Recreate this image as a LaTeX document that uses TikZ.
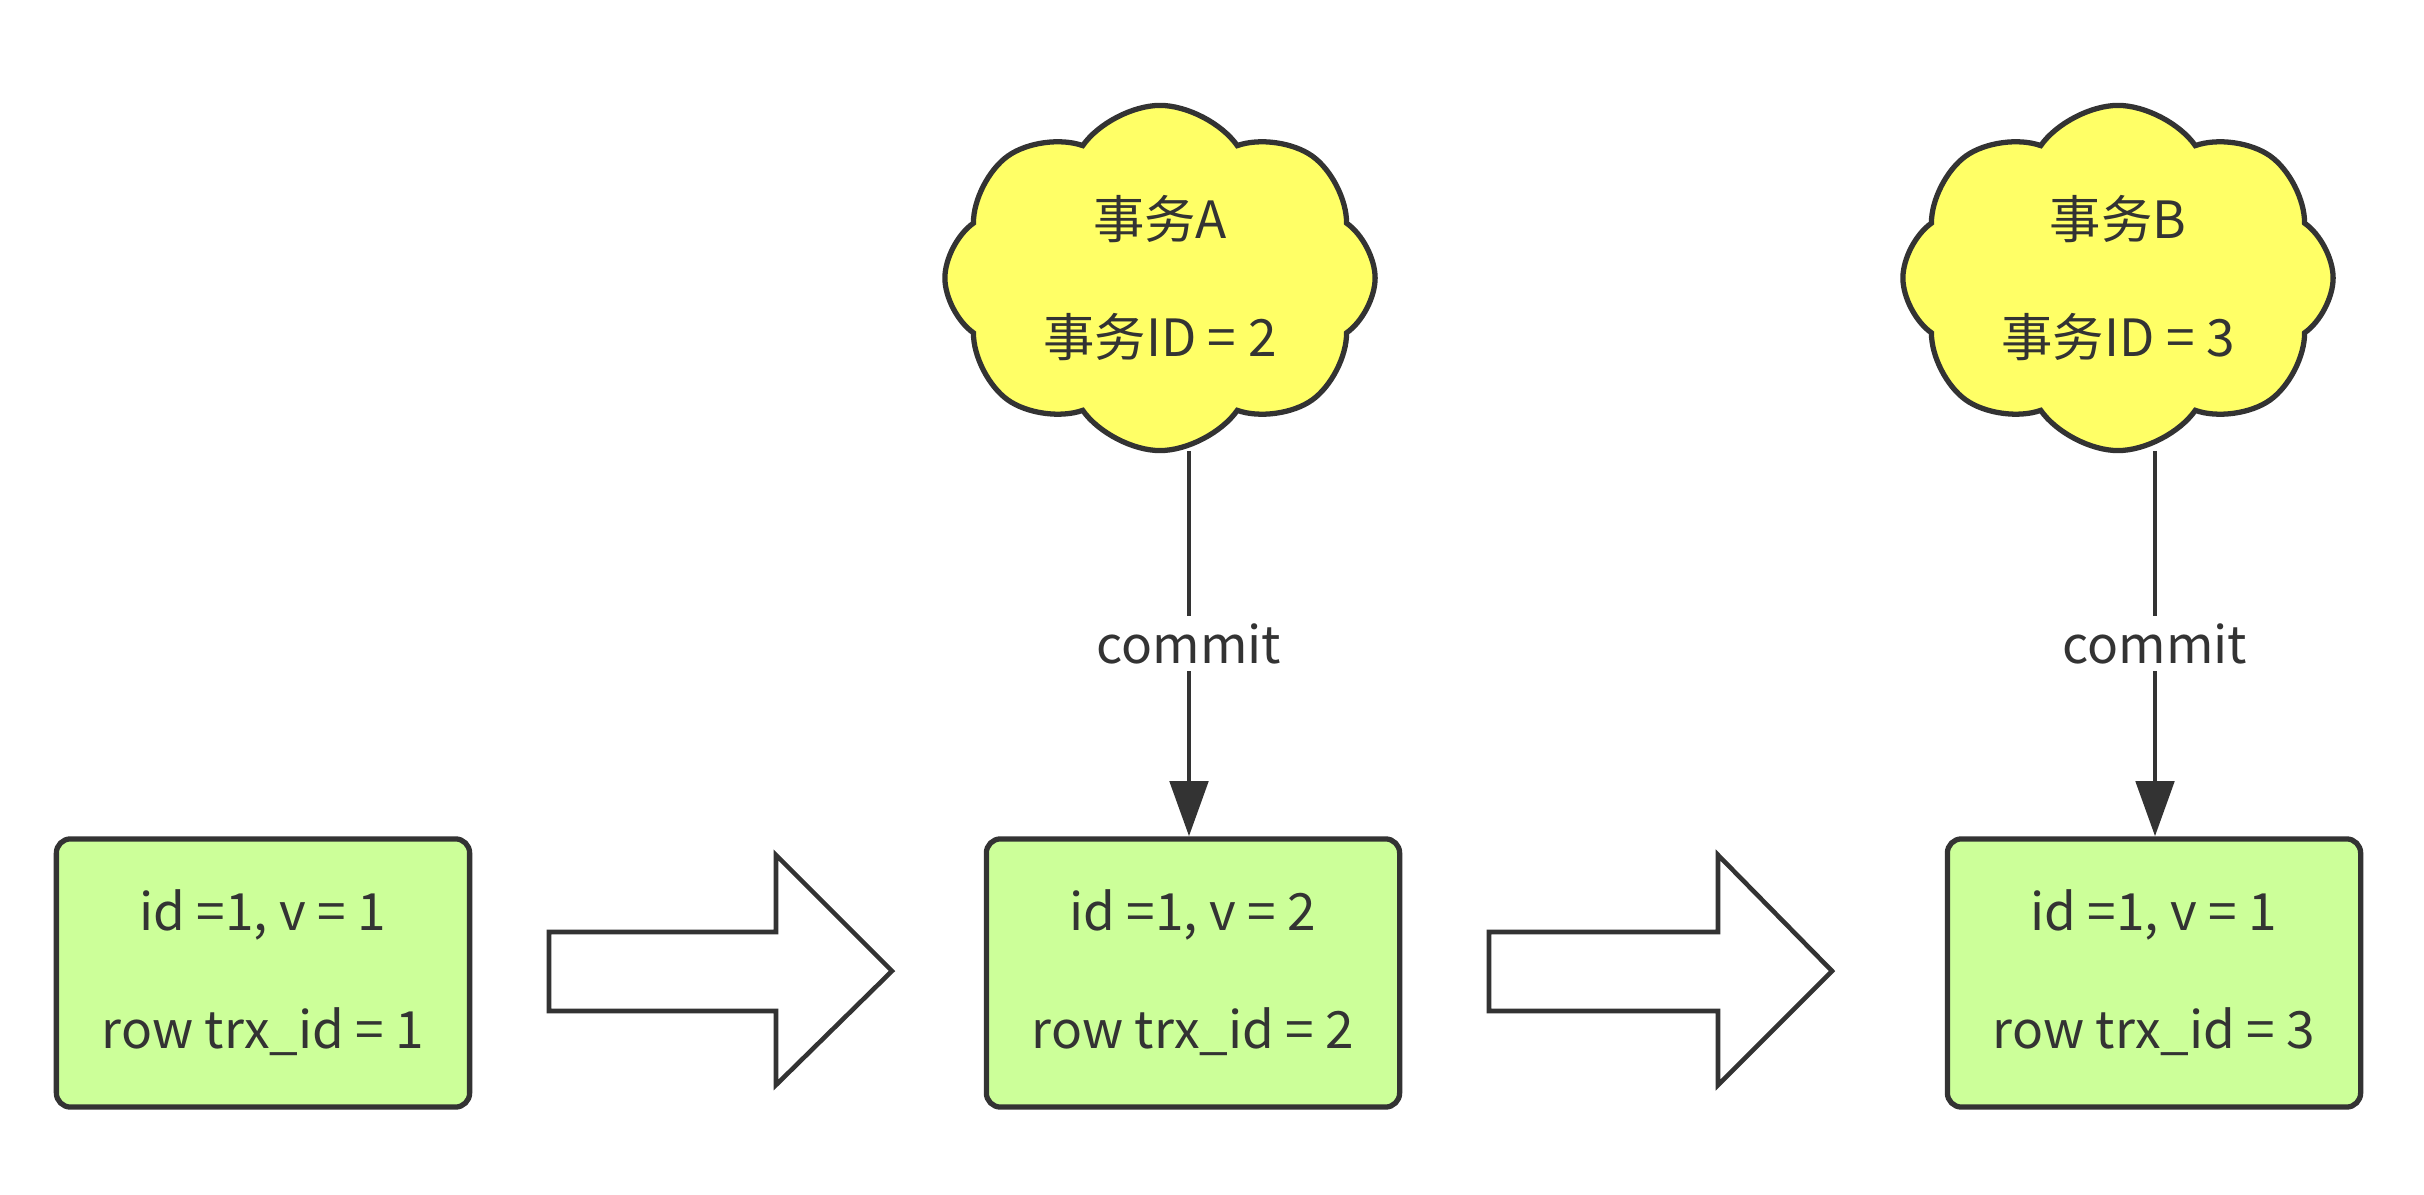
\documentclass[tikz,border=0pt]{standalone}
\usepackage{fontspec}
\setmainfont{Noto Sans CJK SC}
\usepackage{tikz}
\usetikzlibrary{positioning, arrows.meta, shapes.symbols}

\definecolor{rowgreen}{HTML}{CCFF99}
\definecolor{trxyellow}{HTML}{FFFF66}
\definecolor{inkgray}{HTML}{333333}

\tikzset{
  rowbox/.style={draw=inkgray, line width=1.5pt, fill=rowgreen, rounded corners=4pt,
    minimum width=4.13cm, minimum height=2.68cm, align=center, text=inkgray},
  trxcloud/.style={cloud, cloud puffs=8, cloud puff arc=110, cloud ignores aspect,
    draw=inkgray, line width=1.5pt, fill=trxyellow, minimum width=4.3cm,
    minimum height=3.45cm, align=center, text=inkgray},
  commitline/.style={draw=inkgray, line width=1.4pt, -{Triangle[length=5.5mm,width=3.8mm]}},
  blockarrow/.style={draw=inkgray, line width=1.3pt, fill=white}
}

\begin{document}
\begin{tikzpicture}[x=0.01cm, y=-0.01cm, font=\fontsize{14.6}{17}\selectfont]
\useasboundingbox (0,0) rectangle (2424,1195);

% Row versions
\node[rowbox] (row1) at (263,973) {id =1, v = 1\\[5.8mm]row trx\_id = 1};
\node[rowbox] (row2) at (1193,973) {id =1, v = 2\\[5.8mm]row trx\_id = 2};
\node[rowbox] (row3) at (2154,973) {id =1, v = 1\\[5.8mm]row trx\_id = 3};

% Transactions
\node[trxcloud] (trxA) at (1160,278) {事务A\\[5.8mm]事务ID = 2};
\node[trxcloud] (trxB) at (2118,278) {事务B\\[5.8mm]事务ID = 3};

% Commit connectors
\coordinate (topA) at (1189,451);
\coordinate (topB) at (2155,451);
\draw[commitline] (topA) -- node[fill=white, text=inkgray, inner sep=2pt] {commit} (topA |- row2.north);
\draw[commitline] (topB) -- node[fill=white, text=inkgray, inner sep=2pt] {commit} (topB |- row3.north);

% Block arrows between versions
\draw[blockarrow] (549,932) -- (776,932) -- (776,855) -- (892,971) -- (776,1085)
  -- (776,1011) -- (549,1011) -- cycle;
\draw[blockarrow] (1489,932) -- (1718,932) -- (1718,855) -- (1832,971) -- (1718,1085)
  -- (1718,1011) -- (1489,1011) -- cycle;
\end{tikzpicture}
\end{document}
